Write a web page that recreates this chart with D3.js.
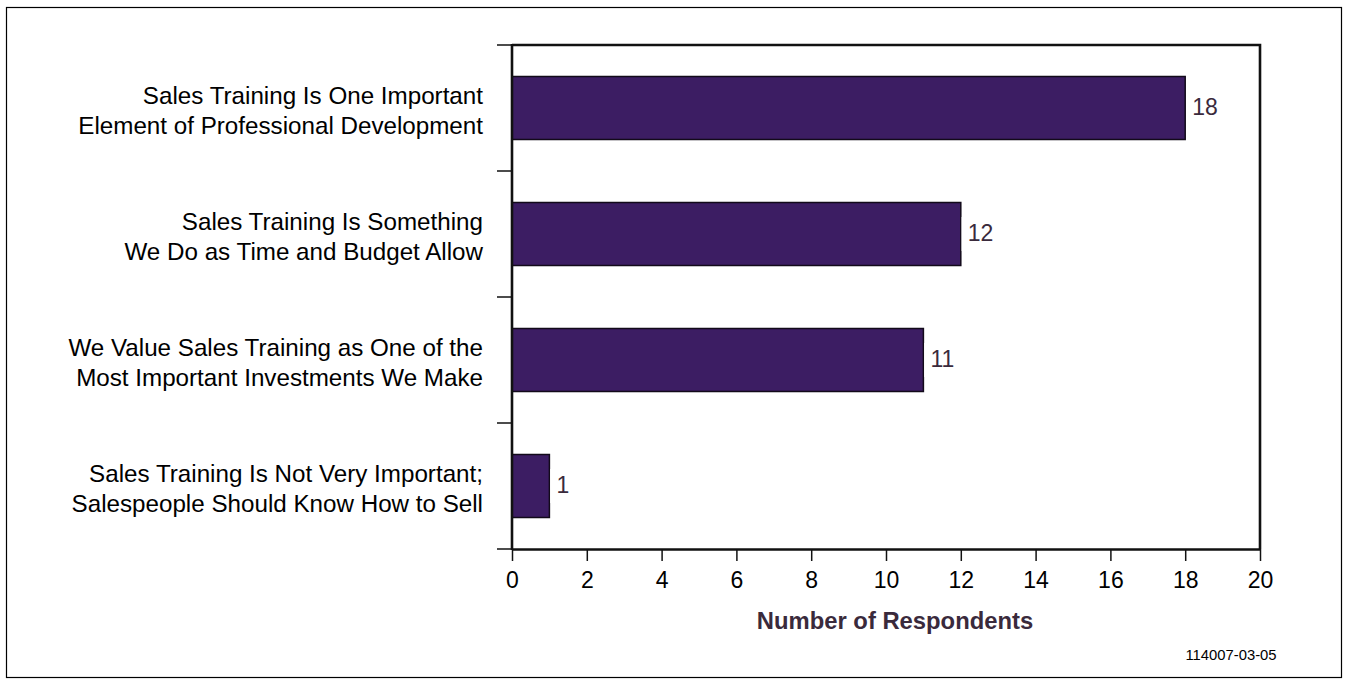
<!DOCTYPE html>
<html>
<head>
<meta charset="utf-8">
<script src="https://cdn.jsdelivr.net/npm/d3@7"></script>
<style>
  html, body { margin: 0; padding: 0; background: #fff; }
  svg text { font-family: "Liberation Sans", Arial, sans-serif; }
</style>
</head>
<body>
<svg id="chart" width="1346" height="688"></svg>
<script>
// Survey responses: how the company views sales training
const categories = [
  ["Sales Training Is One Important", "Element of Professional Development"],
  ["Sales Training Is Something", "We Do as Time and Budget Allow"],
  ["We Value Sales Training as One of the", "Most Important Investments We Make"],
  ["Sales Training Is Not Very Important;", "Salespeople Should Know How to Sell"]
];
const respondents = [18, 12, 11, 1];
const xTicks = [0, 2, 4, 6, 8, 10, 12, 14, 16, 18, 20];
const xTitle = "Number of Respondents";
const figureId = "114007-03-05";

const svg = d3.select("#chart");
const W = 1346, H = 688;
const margin = { left: 512, right: 86, top: 45, bottom: 139 };
const innerW = W - margin.left - margin.right;
const innerH = H - margin.top - margin.bottom;

// outer frame
svg.append("rect")
  .attr("x", 6.5).attr("y", 7.5)
  .attr("width", 1335).attr("height", 670)
  .attr("fill", "none").attr("stroke", "#000").attr("stroke-width", 1.2);

const g = svg.append("g").attr("transform", `translate(${margin.left},${margin.top})`);

const x = d3.scaleLinear().domain([0, 20]).range([0, innerW]);
const y = d3.scaleBand().domain(d3.range(categories.length)).range([0, innerH]).paddingInner(0.5).paddingOuter(0.25);

const rows = categories.map((c, i) => ({ i, lines: c, value: respondents[i] }));

// bars
g.selectAll("rect.bar").data(rows).join("rect")
  .attr("class", "bar")
  .attr("x", 0)
  .attr("y", d => y(d.i))
  .attr("width", d => x(d.value))
  .attr("height", y.bandwidth())
  .attr("fill", "#3c1d63")
  .attr("stroke", "#120a1a")
  .attr("stroke-width", 1.5);

// value labels with a white knockout behind them
const lab = g.selectAll("g.vlabel").data(rows).join("g")
  .attr("class", "vlabel")
  .attr("transform", d => `translate(${x(d.value)},${y(d.i) + y.bandwidth() / 2})`);
lab.append("rect")
  .attr("x", 0.8).attr("y", -17)
  .attr("width", d => String(d.value).length * 13 + 8)
  .attr("height", 34)
  .attr("fill", "#fff");
lab.append("text")
  .attr("x", 7)
  .attr("dy", "0.3em")
  .attr("font-size", 23)
  .attr("fill", "#3a2a3c")
  .text(d => d.value);

// plot frame top and right
g.append("path")
  .attr("d", `M0,0H${innerW}V${innerH}`)
  .attr("fill", "none").attr("stroke", "#111").attr("stroke-width", 2.6);

// category axis: ticks on the boundaries between bands
const yTickPos = d3.range(categories.length + 1).map(k => k === 0 ? 0 : (k === categories.length ? innerH : (y(k - 1) + y(k) + y.bandwidth()) / 2));
g.selectAll("line.ytick").data(yTickPos).join("line")
  .attr("class", "ytick")
  .attr("x1", -15).attr("x2", 0)
  .attr("y1", d => d).attr("y2", d => d)
  .attr("stroke", "#111").attr("stroke-width", 1.5);
g.append("line")
  .attr("x1", 0).attr("x2", 0).attr("y1", -1).attr("y2", innerH + 1)
  .attr("stroke", "#111").attr("stroke-width", 2.6);

// category labels
const cl = g.selectAll("text.cat").data(rows).join("text")
  .attr("class", "cat")
  .attr("text-anchor", "end")
  .attr("font-size", 24.2)
  .attr("fill", "#000")
  .attr("transform", d => `translate(-29,${y(d.i) + y.bandwidth() / 2})`);
cl.selectAll("tspan").data(d => d.lines).join("tspan")
  .attr("x", 0)
  .attr("y", (t, j) => -12 + j * 29.5)
  .attr("dy", "0.35em")
  .text(t => t);

// x axis
const xAxis = g.append("g")
  .attr("transform", `translate(0,${innerH})`)
  .call(d3.axisBottom(x).tickValues(xTicks).tickSize(12).tickSizeOuter(0).tickPadding(11));
xAxis.select(".domain").attr("stroke", "#111").attr("stroke-width", 2.6);
xAxis.selectAll(".tick line").attr("stroke", "#111").attr("stroke-width", 1.5);
xAxis.selectAll(".tick text")
  .attr("font-size", 23)
  .attr("fill", "#000")
  .attr("font-family", "'Liberation Sans', Arial, sans-serif");

// axis title
g.append("text")
  .attr("x", innerW / 2 + 9)
  .attr("y", innerH + 80)
  .attr("text-anchor", "middle")
  .attr("font-size", 23.8)
  .attr("font-weight", "bold")
  .attr("fill", "#3a2a3c")
  .text(xTitle);

// figure id
svg.append("text")
  .attr("x", 1231)
  .attr("y", 660)
  .attr("text-anchor", "middle")
  .attr("font-size", 14.8)
  .attr("fill", "#000")
  .text(figureId);
</script>
</body>
</html>
